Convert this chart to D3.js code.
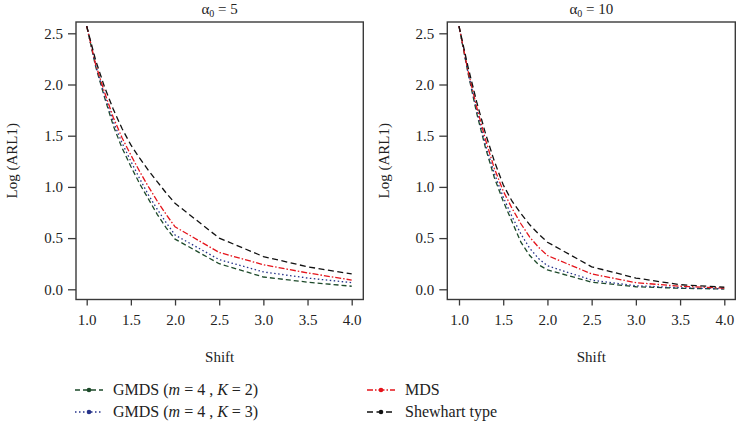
<!DOCTYPE html>
<html><head><meta charset="utf-8">
<script src="https://cdn.jsdelivr.net/npm/d3@7"></script>
<style>
html,body{margin:0;padding:0;background:#fff;}
text{font-family:"Liberation Serif","DejaVu Serif",serif;fill:#222;}
</style></head>
<body><svg id="c" width="736" height="425"></svg>
<script>
const shifts = [1.0,1.1,1.2,1.3,1.4,1.5,1.6,1.7,1.8,1.9,2.0,2.5,3.0,3.5,4.0];
const xTicks = [1.0,1.5,2.0,2.5,3.0,3.5,4.0];
const yTicks = [0.0,0.5,1.0,1.5,2.0,2.5];
const panelTitles = ["5","10"];
const seriesNames = ["GMDS (m = 4 , K = 2)","GMDS (m = 4 , K = 3)","MDS","Shewhart type"];

// alpha0 = 5
const a5_gmds2 = [2.57,2.18,1.88,1.60,1.38,1.20,1.03,0.88,0.73,0.60,0.49,0.25,0.12,0.07,0.03];
const a5_gmds3 = [2.57,2.19,1.90,1.64,1.43,1.25,1.08,0.92,0.78,0.65,0.53,0.29,0.17,0.11,0.065];
const a5_mds   = [2.57,2.20,1.93,1.68,1.48,1.31,1.15,1.00,0.86,0.73,0.61,0.36,0.24,0.16,0.09];
const a5_shew  = [2.57,2.24,1.98,1.76,1.57,1.41,1.28,1.16,1.05,0.94,0.84,0.50,0.32,0.22,0.15];
// alpha0 = 10
const a10_gmds2 = [2.57,2.12,1.72,1.38,1.09,0.86,0.66,0.46,0.33,0.24,0.19,0.07,0.025,0.01,0.003];
const a10_gmds3 = [2.57,2.13,1.75,1.41,1.13,0.90,0.71,0.54,0.40,0.30,0.23,0.09,0.035,0.015,0.005];
const a10_mds   = [2.57,2.14,1.78,1.46,1.18,0.96,0.79,0.64,0.51,0.41,0.33,0.15,0.065,0.03,0.012];
const a10_shew  = [2.57,2.18,1.83,1.52,1.25,1.02,0.86,0.74,0.63,0.54,0.46,0.22,0.11,0.045,0.02];

const panelData = [[a5_gmds2,a5_gmds3,a5_mds,a5_shew],[a10_gmds2,a10_gmds3,a10_mds,a10_shew]];

const styles = [
  {color:"#1d4a2a", dash:"5,3"},
  {color:"#26338a", dash:"1.5,2.5"},
  {color:"#e5141b", dash:"6,2,1.5,2"},
  {color:"#111111", dash:"6,3.5"}
];

const svg = d3.select("#c");
const panels = [
  {fx0:76, fx1:363.3, x0:86.7, x1:351.7, ylab:11.7},
  {fx0:447.3, fx1:735.3, x0:459, x1:724.3, ylab:383.5}
];
const fy0 = 22, fy1 = 299.5;

panels.forEach((p,pi)=>{
  const x = d3.scaleLinear().domain([1,4]).range([p.x0,p.x1]);
  const y = d3.scaleLinear().domain([0,2.5]).range([289.3,33.3]);
  const g = svg.append("g");

  // lines
  const line = d3.line().x((d,i)=>x(shifts[i])).y(d=>y(d));
  panelData[pi].forEach((arr,si)=>{
    g.append("path").datum(arr).attr("d",line)
      .attr("fill","none").attr("stroke",styles[si].color)
      .attr("stroke-width",1.3).attr("stroke-dasharray",styles[si].dash);
  });

  // frame
  g.append("rect").attr("x",p.fx0).attr("y",fy0)
    .attr("width",p.fx1-p.fx0).attr("height",fy1-fy0)
    .attr("fill","none").attr("stroke","#3a3a3a").attr("stroke-width",1.4);

  // axes
  const xa = g.append("g").attr("transform",`translate(0,${fy1})`)
    .call(d3.axisBottom(x).tickValues(xTicks).tickFormat(d3.format(".1f")).tickSize(6).tickPadding(9));
  const ya = g.append("g").attr("transform",`translate(${p.fx0},0)`)
    .call(d3.axisLeft(y).tickValues(yTicks).tickFormat(d3.format(".1f")).tickSize(8).tickPadding(5));
  [xa,ya].forEach(a=>{
    a.select(".domain").remove();
    a.selectAll("line").attr("stroke","#3a3a3a").attr("stroke-width",1.3);
    a.selectAll("text").attr("font-family","Liberation Serif").attr("font-size",15).attr("fill","#222");
  });

  // title
  const cx = (p.fx0+p.fx1)/2;
  const t = g.append("text").attr("x",cx).attr("y",14).attr("text-anchor","middle").attr("font-size",15);
  t.append("tspan").text("α");
  t.append("tspan").attr("font-size",10).attr("dy",3).text("0");
  t.append("tspan").attr("dy",-3).text(" = "+panelTitles[pi]);

  // axis titles
  g.append("text").attr("x",cx).attr("y",362).attr("text-anchor","middle").attr("font-size",15).text("Shift");
  g.append("text").attr("transform",`translate(${p.ylab+5},${(fy0+fy1)/2}) rotate(-90)`)
    .attr("text-anchor","middle").attr("font-size",15).text("Log (ARL1)");
});

// legend
const legPos = [{x:75,y:390},{x:75,y:412},{x:367,y:390},{x:367,y:412}];
seriesNames.forEach((name,si)=>{
  const lp = legPos[si];
  const lg = svg.append("g");
  lg.append("line").attr("x1",lp.x).attr("x2",lp.x+28).attr("y1",lp.y).attr("y2",lp.y)
    .attr("stroke",styles[si].color).attr("stroke-width",1.3).attr("stroke-dasharray",styles[si].dash);
  lg.append("circle").attr("cx",lp.x+14).attr("cy",lp.y).attr("r",2.3).attr("fill",styles[si].color);
  const t = lg.append("text").attr("x",lp.x+38).attr("y",lp.y+5).attr("font-size",16);
  const m = name.match(/^GMDS \(m = (\d) , K = (\d)\)$/);
  if(m){
    t.append("tspan").text("GMDS (");
    t.append("tspan").attr("font-style","italic").text("m");
    t.append("tspan").text(" = "+m[1]+" , ");
    t.append("tspan").attr("font-style","italic").text("K");
    t.append("tspan").text(" = "+m[2]+")");
  } else {
    t.text(name);
  }
});
</script></body></html>
